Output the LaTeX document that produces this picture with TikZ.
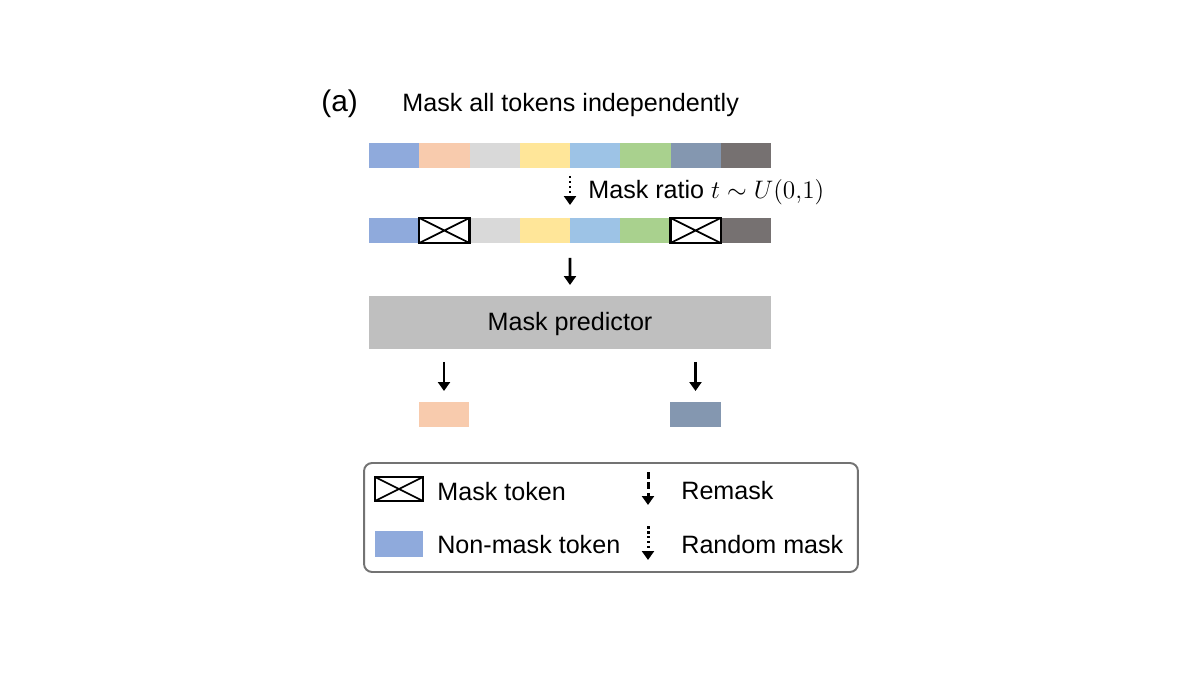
\documentclass[tikz,border=0pt]{standalone}
\usepackage{fontspec}
\setmainfont{Liberation Sans}
\usetikzlibrary{arrows.meta,positioning}

\definecolor{tokA}{HTML}{8FAADC}
\definecolor{tokB}{HTML}{F8CBAD}
\definecolor{tokC}{HTML}{D9D9D9}
\definecolor{tokD}{HTML}{FFE699}
\definecolor{tokE}{HTML}{9DC3E6}
\definecolor{tokF}{HTML}{A9D18E}
\definecolor{tokG}{HTML}{8497B0}
\definecolor{tokH}{HTML}{767171}
\definecolor{predgray}{HTML}{BFBFBF}

\tikzset{
  tok/.style={minimum width=1.005cm, minimum height=0.5cm, inner sep=0pt, outer sep=0pt},
  masktok/.style={tok, draw=black, line width=1.2pt, fill=white,
    path picture={\draw[line width=1pt] (path picture bounding box.north west) -- (path picture bounding box.south east)
      (path picture bounding box.south west) -- (path picture bounding box.north east);}},
  txt/.style={font=\fontsize{14.3}{16}\selectfont, inner sep=0pt},
  solidarr/.style={-{Triangle[width=0.24cm,length=0.18cm]}, line width=1.7pt},
  dotarr/.style={solidarr, dash pattern=on 0.05cm off 0.05cm},
  dasharr/.style={solidarr, dash pattern=on 0.14cm off 0.07cm},
}

\begin{document}
\begin{tikzpicture}[x=0.02cm, y=-0.02cm]
    \useasboundingbox (0,0) rectangle (1200,675);

    \node[txt, font=\fontsize{17}{19}\selectfont, anchor=west] at (321, 104)(lbl){(a)};
    \node[txt, anchor=west] at (402, 105)(title){Mask all tokens independently};

    % input tokens
    \foreach \c [count=\i] in {tokA,tokB,tokC,tokD,tokE,tokF,tokG,tokH}
        \node[tok, fill=\c] at ({369+50.25*(\i-0.5)}, 155.5)(t\i){};

    % masked tokens
    \foreach \c/\i in {tokA/1,tokC/3,tokD/4,tokE/5,tokF/6,tokH/8}
        \node[tok, fill=\c] at ({369+50.25*(\i-0.5)}, 230.5)(m\i){};
    \node[masktok] at ({369+50.25*1.5}, 230.5)(m2){};
    \node[masktok] at ({369+50.25*6.5}, 230.5)(m7){};

    \node[tok, fill=predgray, minimum width=8.04cm, minimum height=1.06cm] at (570, 322.5)(pred){};
    \node[txt] at (570, 324)(predtxt){Mask predictor};

    \node[tok, fill=tokB] at (444, 414.5)(o2){};
    \node[tok, fill=tokG] at (695.5, 414.5)(o7){};

    \node[txt, anchor=west] at (588, 192)(ratio){Mask ratio $t \sim U(0{,}1)$};

    \path[dotarr, shorten <=0.16cm, shorten >=0.26cm] (t4.south east) edge (m4.north east);
    \path[solidarr, shorten <=0.3cm, shorten >=0.22cm] (m4.south east) edge (pred.north);
    \path[solidarr, shorten <=0.26cm, shorten >=0.22cm]
        (pred.south -| o2) edge (o2.north)
        (pred.south -| o7) edge (o7.north);

    % legend
    \node[draw=black!55, line width=1.1pt, rounded corners=0.16cm, minimum width=9.88cm, minimum height=2.18cm,
          inner sep=0pt] at (611, 517.5)(leg){};
    \node[masktok, minimum width=0.96cm, minimum height=0.48cm] at (399, 489)(legmask){};
    \node[txt, anchor=west] at (437, 492)(legmasktxt){Mask token};
    \node[tok, fill=tokA, minimum width=0.96cm, minimum height=0.52cm] at (399, 544)(legtok){};
    \node[txt, anchor=west] at (437, 545)(legtoktxt){Non-mask token};
    \coordinate (rmA) at (648, 472);
    \coordinate (rmB) at (648, 505);
    \coordinate (rdA) at (648, 526);
    \coordinate (rdB) at (648, 560);
    \path[dasharr] (rmA) edge (rmB);
    \path[dotarr] (rdA) edge (rdB);
    \node[txt, anchor=west] at (681, 491)(remask){Remask};
    \node[txt, anchor=west] at (681, 545)(random){Random mask};
\end{tikzpicture}
\end{document}
